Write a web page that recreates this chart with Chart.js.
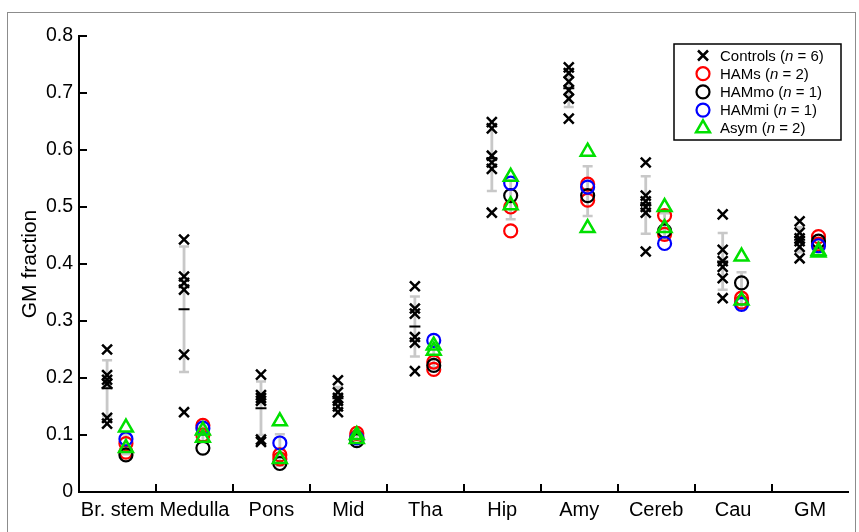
<!DOCTYPE html>
<html><head><meta charset="utf-8">
<script src="https://cdn.jsdelivr.net/npm/chart.js@4.4.1/dist/chart.umd.min.js"></script>
<style>
html,body{margin:0;padding:0;background:#fff;}
#wrap{position:relative;width:859px;height:532px;overflow:hidden;background:#fff;}
#frame{position:absolute;left:7px;top:12px;width:847px;height:540px;border:1px solid #8c8c8c;}
canvas{position:absolute;left:0;top:0;}
</style></head><body>
<div id="wrap"><div id="frame"></div><canvas id="c" width="859" height="532"></canvas></div>
<script>
// ---- data ----
const categories = ['Br. stem','Medulla','Pons','Mid','Tha','Hip','Amy','Cereb','Cau','GM'];
const yTicks = [0,0.1,0.2,0.3,0.4,0.5,0.6,0.7,0.8];
const controls = [
  [0.25,0.205,0.197,0.19,0.13,0.12],
  [0.443,0.378,0.367,0.355,0.241,0.14],
  [0.206,0.17,0.165,0.16,0.092,0.088],
  [0.196,0.175,0.165,0.16,0.15,0.14],
  [0.361,0.322,0.313,0.272,0.262,0.212],
  [0.649,0.638,0.59,0.578,0.567,0.49],
  [0.745,0.735,0.72,0.705,0.69,0.655],
  [0.578,0.52,0.51,0.5,0.49,0.422],
  [0.487,0.425,0.405,0.395,0.375,0.34],
  [0.475,0.455,0.445,0.44,0.43,0.41]
];
const hamS = [[0.085,0.07],[0.117,0.1],[0.065,0.058],[0.103,0.097],[0.228,0.215],[0.5,0.458],[0.54,0.512],[0.485,0.452],[0.34,0.333],[0.448,0.435]];
const hamMo = [0.065,0.077,0.05,0.09,0.222,0.52,0.52,0.458,0.367,0.44];
const hamMi = [0.093,0.112,0.086,0.095,0.266,0.542,0.535,0.436,0.329,0.432];
const asym = [[0.113,0.077],[0.108,0.095],[0.124,0.058],[0.1,0.093],[0.257,0.248],[0.553,0.503],[0.597,0.463],[0.5,0.463],[0.413,0.336],[0.423,0.42]];
const legendItems = [
  {name:'Controls', n:6, style:'crossRot', color:'#000000'},
  {name:'HAMs', n:2, style:'circle', color:'#ff0000'},
  {name:'HAMmo', n:1, style:'circle', color:'#000000'},
  {name:'HAMmi', n:1, style:'circle', color:'#0000ff'},
  {name:'Asym', n:2, style:'triangle', color:'#00e000'}
];

// ---- helpers ----
const FONT = "'Liberation Sans', Arial, Helvetica, sans-serif";
const CTRL_OFF = -0.135, PAT_OFF = 0.11;
const mean = a => a.reduce((s,v)=>s+v,0)/a.length;
const sd = a => { const m = mean(a); return Math.sqrt(a.reduce((s,v)=>s+(v-m)*(v-m),0)/(a.length-1)); };
const cx = i => i + 0.5 + CTRL_OFF;
const px = i => i + 0.5 + PAT_OFF;

const ctrlPts = [], ctrlMean = [], errPts = [];
controls.forEach((arr,i)=>{
  arr.forEach(v=>ctrlPts.push({x:cx(i), y:v}));
  const m = mean(arr), s = sd(arr);
  ctrlMean.push({x:cx(i), y:m});
  errPts.push({x:cx(i), y:m-s},{x:cx(i), y:m+s},{x:cx(i), y:null});
});
categories.forEach((c,i)=>{
  const all = [...hamS[i], hamMo[i], hamMi[i], ...asym[i]];
  const m = mean(all), s = sd(all);
  errPts.push({x:px(i), y:m-s},{x:px(i), y:m+s},{x:px(i), y:null});
});
const flat2 = arr => arr.flatMap((pair,i)=>pair.map(v=>({x:px(i), y:v})));
const single = arr => arr.map((v,i)=>({x:px(i), y:v}));

const datasets = [
  {label:'Asym', data:flat2(asym), pointStyle:'triangle', pointRadius:8, borderColor:'#00e000', backgroundColor:'rgba(0,0,0,0)', pointBorderWidth:2.5, order:0},
  {label:'HAMmi', data:single(hamMi), pointStyle:'circle', pointRadius:6.5, borderColor:'#0000ff', backgroundColor:'rgba(0,0,0,0)', pointBorderWidth:2.2, order:1},
  {label:'HAMmo', data:single(hamMo), pointStyle:'circle', pointRadius:6.5, borderColor:'#000000', backgroundColor:'rgba(0,0,0,0)', pointBorderWidth:2.2, order:2},
  {label:'HAMs', data:flat2(hamS), pointStyle:'circle', pointRadius:6.5, borderColor:'#ff0000', backgroundColor:'rgba(0,0,0,0)', pointBorderWidth:2.2, order:3},
  {label:'Controls', data:ctrlPts, pointStyle:'crossRot', pointRadius:7, borderColor:'#000', backgroundColor:'#000', pointBorderWidth:2.5, order:4},
  {label:'mean', data:ctrlMean, pointStyle:'line', pointRadius:5.5, borderColor:'#000', pointBorderWidth:2, order:5},
  {label:'err', data:errPts, showLine:true, spanGaps:false, pointStyle:'line', pointRadius:5, borderColor:'#c8c8c8', pointBorderColor:'#c8c8c8', borderWidth:2.8, pointBorderWidth:2.5, order:6}
];

const inwardTicks = {
  id:'inwardTicks',
  afterDraw(chart){
    const {ctx, chartArea:a, scales:{x,y}} = chart;
    ctx.save(); ctx.strokeStyle='#000'; ctx.lineWidth=2;
    yTicks.forEach(v=>{ if(v===0) return; const py=Math.round(y.getPixelForValue(v)); ctx.beginPath(); ctx.moveTo(a.left, py); ctx.lineTo(a.left+8, py); ctx.stroke(); });
    for(let k=1;k<categories.length;k++){ const xx=Math.round(x.getPixelForValue(k)); ctx.beginPath(); ctx.moveTo(xx, a.bottom); ctx.lineTo(xx, a.bottom-8); ctx.stroke(); }
    ctx.restore();
  }
};

function drawMarker(ctx, style, color, x, y){
  ctx.save(); ctx.strokeStyle=color; ctx.beginPath();
  if(style==='crossRot'){ const r=5; ctx.lineWidth=2.5; ctx.moveTo(x-r,y-r); ctx.lineTo(x+r,y+r); ctx.moveTo(x+r,y-r); ctx.lineTo(x-r,y+r); }
  else if(style==='circle'){ ctx.lineWidth=2.2; ctx.arc(x,y,6.5,0,Math.PI*2); }
  else { const r=8; ctx.lineWidth=2.5; ctx.moveTo(x, y-r); ctx.lineTo(x+r*Math.sin(2*Math.PI/3), y-r*Math.cos(2*Math.PI/3)); ctx.lineTo(x+r*Math.sin(4*Math.PI/3), y-r*Math.cos(4*Math.PI/3)); ctx.closePath(); }
  ctx.stroke(); ctx.restore();
}
const legendPlugin = {
  id:'customLegend',
  afterDraw(chart){
    const ctx = chart.ctx;
    const bx=674, by=44, bw=167, bh=96;
    ctx.save();
    ctx.fillStyle='#fff'; ctx.fillRect(bx,by,bw,bh);
    ctx.strokeStyle='#000'; ctx.lineWidth=1.5; ctx.strokeRect(bx,by,bw,bh);
    ctx.textBaseline='middle'; ctx.fillStyle='#000';
    legendItems.forEach((it,k)=>{
      const yy = by + 11.5 + k*18.2;
      drawMarker(ctx, it.style, it.color, 703, yy);
      let tx = 720;
      const parts = [[it.name+' (', 'normal'], ['n','italic'], [' = '+it.n+')','normal']];
      parts.forEach(([t,st])=>{ ctx.font = st+' 15px '+FONT; ctx.fillText(t, tx, yy+1); tx += ctx.measureText(t).width; });
    });
    ctx.restore();
  }
};

new Chart(document.getElementById('c'), {
  type:'scatter',
  data:{datasets},
  options:{
    responsive:false, animation:false, devicePixelRatio:1,
    layout:{padding:{left:0,right:9,top:36,bottom:0}},
    plugins:{legend:{display:false}, tooltip:{enabled:false}},
    scales:{
      x:{type:'linear', min:0, max:categories.length,
        afterFit(s){ s.height = 40; },
        afterBuildTicks(s){ s.ticks = categories.map((c,i)=>({value:i+0.5})); },
        ticks:{callback:(v,i)=>categories[i], autoSkip:false, maxRotation:0, minRotation:0, padding:6, color:'#000', font:{family:FONT, size:20}},
        grid:{display:false, drawTicks:false}, border:{display:true, color:'#000', width:2}},
      y:{type:'linear', min:0, max:0.8,
        afterFit(s){ s.width = 79; },
        afterBuildTicks(s){ s.ticks = yTicks.map(v=>({value:v})); },
        ticks:{callback:v=> v===0 ? '0' : v.toFixed(1), padding:6, color:'#000', font:{family:FONT, size:19.5}},
        title:{display:true, text:'GM fraction', color:'#000', font:{family:FONT, size:21}, padding:{top:18, bottom:0}},
        grid:{display:false, drawTicks:false}, border:{display:true, color:'#000', width:2}}
    }
  },
  plugins:[inwardTicks, legendPlugin]
});
</script>
</body></html>
